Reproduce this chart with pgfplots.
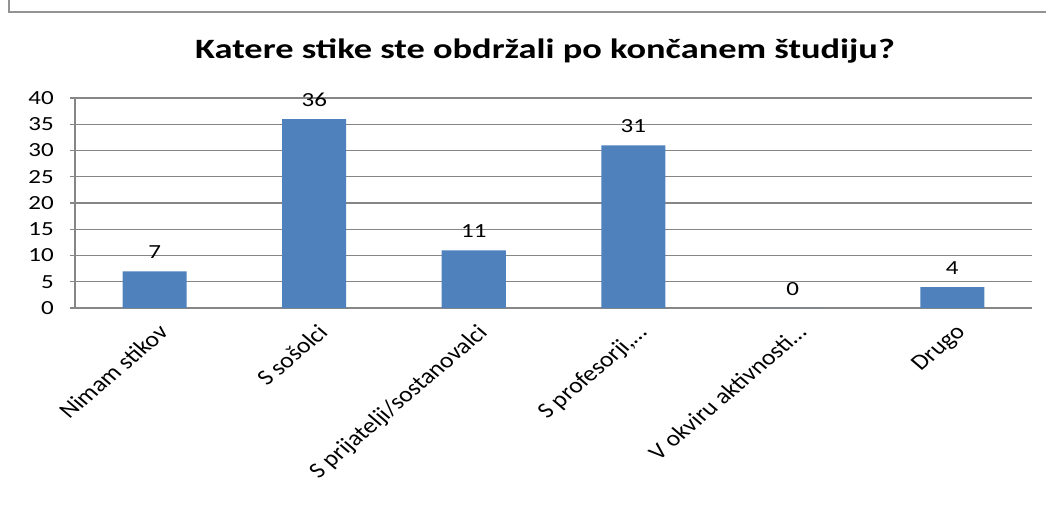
\documentclass[border=0pt]{standalone}
\usepackage{pgfplots}
\pgfplotsset{compat=1.18}
\usepackage{fontspec}
\setmainfont{Carlito}
\definecolor{barblue}{HTML}{4F81BD}
\definecolor{gridgray}{HTML}{868686}
\begin{document}
\begin{tikzpicture}
\path[use as bounding box] (0pt,0pt) rectangle (784.5pt,378pt);
\draw[line width=2.2pt, color=gray!85] (6.75pt,378pt) -- (6.75pt,369pt) -- (784.5pt,369pt);
\node[font=\fontsize{21}{25}\selectfont\bfseries, xscale=1.3] at (408.75pt,339.75pt) {Katere stike ste obdržali po končanem študiju?};
\begin{axis}[
  at={(116.06pt,147pt)}, anchor=origin,
  scale only axis, width=717.75pt, height=157.5pt,
  xmin=-0.5, xmax=5.5, ymin=0, ymax=40,
  ytick={0,5,10,15,20,25,30,35,40},
  xtick={0,1,2,3,4,5},
  xticklabels={Nimam stikov, S sošolci, S prijatelji/sostanovalci, {S profesorji,\textellipsis}, {V okviru aktivnosti\textellipsis}, Drugo},
  extra x ticks={-0.5,0.5,1.5,2.5,3.5,4.5,5.5},
  extra x tick labels={},
  extra x tick style={major tick length=5pt, tick style={gridgray, line width=0.8pt}, tick align=outside, xticklabel=\empty},
  major x tick style={draw=none},
  axis x line*=bottom, axis y line*=left,
  axis line style={gridgray, line width=0.8pt},
  ymajorgrids, grid style={gridgray, line width=0.8pt},
  y tick style={gridgray, line width=0.8pt},
  tick align=outside, major tick length=4pt,
  xticklabel style={xscale=1.17, rotate=45, anchor=north east, font=\fontsize{16.5}{19}\selectfont, inner sep=2pt, yshift=-4pt, xshift=-2pt},
  yticklabel style={xscale=1.25, font=\fontsize{15}{18}\selectfont, xshift=-6pt},
  /pgf/number format/assume math mode=true,
  ybar, bar width=48pt,
  nodes near coords,
  nodes near coords style={font=\fontsize{15}{18}\selectfont, xscale=1.25, black, yshift=6pt},
  clip=false,
]
\addplot[fill=barblue, draw=none] coordinates {(0,7) (1,36) (2,11) (3,31) (4,0) (5,4)};
\end{axis}
\end{tikzpicture}
\end{document}
